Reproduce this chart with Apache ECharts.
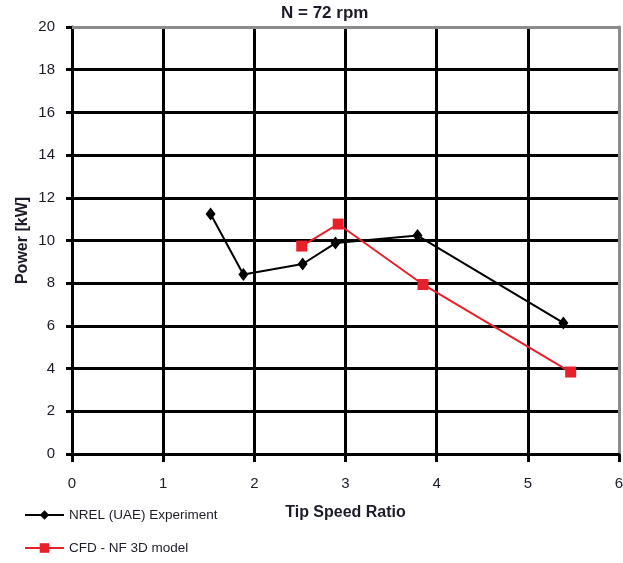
<!DOCTYPE html>
<html>
<head>
<meta charset="utf-8">
<script src="https://cdn.jsdelivr.net/npm/echarts@6/dist/echarts.min.js"></script>
<style>
html,body{margin:0;padding:0;background:#fff;}
#c{width:623px;height:563px;}
</style>
</head>
<body>
<div id="c"></div>
<script>
const titleText = 'N = 72 rpm';
const xAxisName = 'Tip Speed Ratio';
const yAxisName = 'Power [kW]';
const seriesNames = ['NREL (UAE) Experiment', 'CFD - NF 3D model'];
const nrelTSR = [1.52, 1.88, 2.53, 2.89, 3.79, 5.39];
const nrelPower = [11.24, 8.41, 8.90, 9.88, 10.23, 6.14];
const cfdTSR = [2.52, 2.92, 3.85, 5.47];
const cfdPower = [9.74, 10.77, 7.94, 3.84];

const FONT = '"Liberation Sans", Arial, Helvetica, sans-serif';
const TXT = '#1c1c28';

const pair = (xs, ys) => xs.map((x, i) => [x, ys[i]]);

const chart = echarts.init(document.getElementById('c'));
const yColors = Array(10).fill('#000').concat(['#8c8c8c']);
const xColors = Array(6).fill('#000').concat(['#8c8c8c']);

chart.setOption({
  animation: false,
  backgroundColor: '#fff',
  title: {
    text: titleText,
    left: 281, top: 5, padding: 0,
    textStyle: { fontFamily: FONT, fontSize: 17, fontWeight: 'bold', color: TXT }
  },
  legend: [
    {
      data: [seriesNames[0]],
      left: 24, top: 508, padding: 0, itemGap: 4,
      itemWidth: 39, itemHeight: 12,
      textStyle: { fontFamily: FONT, fontSize: 13.5, color: TXT }
    },
    {
      data: [seriesNames[1]],
      left: 24, top: 541, padding: 0, itemGap: 4,
      itemWidth: 39, itemHeight: 12,
      textStyle: { fontFamily: FONT, fontSize: 13.5, color: TXT }
    }
  ],
  grid: { left: 72, right: 4, top: 27, bottom: 109, containLabel: false, outerBoundsMode: 'none' },
  xAxis: [
    {
      type: 'value', min: 0, max: 6, interval: 1,
      name: xAxisName, nameLocation: 'middle', nameGap: 51, nameMoveOverlap: false,
      nameTextStyle: { fontFamily: FONT, fontSize: 16, fontWeight: 'bold', color: TXT },
      axisLine: { show: true, onZero: false, lineStyle: { color: '#000', width: 3 } },
      axisTick: { show: true, length: 8, lineStyle: { color: '#000', width: 3 } },
      axisLabel: { margin: 22, fontFamily: FONT, fontSize: 15, color: TXT },
      splitLine: { show: true, lineStyle: { color: xColors, width: 3 } }
    },
    {
      type: 'value', position: 'top', min: 0, max: 6, interval: 1,
      axisLine: { show: true, onZero: false, lineStyle: { color: '#8c8c8c', width: 3 } },
      axisTick: { show: false }, axisLabel: { show: false }, splitLine: { show: false }
    }
  ],
  yAxis: [
    {
      type: 'value', min: 0, max: 20, interval: 2,
      name: yAxisName, nameLocation: 'middle', nameGap: 41, nameRotate: 90, nameMoveOverlap: false,
      nameTextStyle: { fontFamily: FONT, fontSize: 16, fontWeight: 'bold', color: TXT },
      axisLine: { show: true, onZero: false, lineStyle: { color: '#000', width: 3 } },
      axisTick: { show: true, length: 6, lineStyle: { color: '#000', width: 3 } },
      axisLabel: { margin: 17, fontFamily: FONT, fontSize: 15, color: TXT },
      splitLine: { show: true, lineStyle: { color: yColors, width: 3 } }
    },
    {
      type: 'value', position: 'right', min: 0, max: 20, interval: 2,
      axisLine: { show: true, onZero: false, lineStyle: { color: '#8c8c8c', width: 3 } },
      axisTick: { show: false }, axisLabel: { show: false }, splitLine: { show: false }
    }
  ],
  series: [
    {
      name: seriesNames[0], type: 'line',
      data: pair(nrelTSR, nrelPower),
      symbol: 'diamond', symbolSize: [10, 13],
      itemStyle: { color: '#000' },
      lineStyle: { color: '#000', width: 2 },
      z: 3
    },
    {
      name: seriesNames[1], type: 'line',
      data: pair(cfdTSR, cfdPower),
      symbol: 'rect', symbolSize: 11,
      itemStyle: { color: '#e8202a' },
      lineStyle: { color: '#e8202a', width: 2 },
      z: 4
    }
  ]
});
</script>
</body>
</html>
